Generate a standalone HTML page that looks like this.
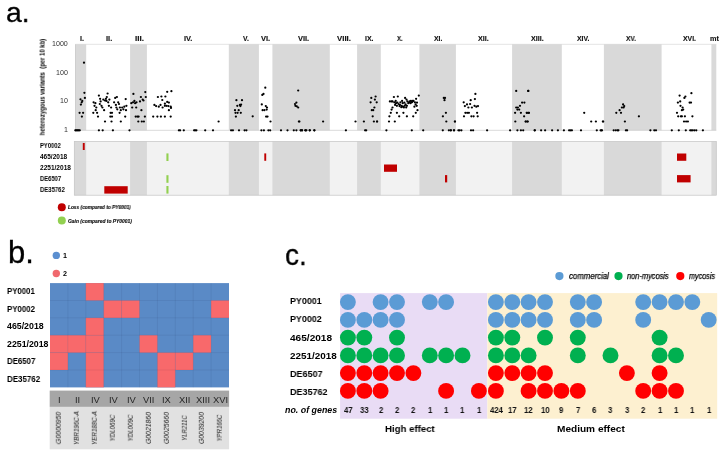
<!DOCTYPE html>
<html><head><meta charset="utf-8"><title>figure</title>
<style>
html,body{margin:0;padding:0;background:#fff;}
body{width:725px;height:457px;position:relative;overflow:hidden;font-family:"Liberation Sans",sans-serif;color:#000;}
.t{position:absolute;white-space:nowrap;line-height:1;will-change:transform;}
</style></head><body>

<svg width="725" height="457" viewBox="0 0 725 457" style="position:absolute;left:0;top:0">
<rect x="75.5" y="44.3" width="640.8" height="86.00000000000001" fill="#fff"/>
<rect x="75.3" y="44.3" width="10.9" height="86.0" fill="#d9d9d9"/>
<rect x="130.1" y="44.3" width="16.8" height="86.0" fill="#d9d9d9"/>
<rect x="228.8" y="44.3" width="30.1" height="86.0" fill="#d9d9d9"/>
<rect x="272.4" y="44.3" width="57.4" height="86.0" fill="#d9d9d9"/>
<rect x="357.1" y="44.3" width="23.7" height="86.0" fill="#d9d9d9"/>
<rect x="419.4" y="44.3" width="36.5" height="86.0" fill="#d9d9d9"/>
<rect x="512.1" y="44.3" width="49.7" height="86.0" fill="#d9d9d9"/>
<rect x="603.9" y="44.3" width="57.7" height="86.0" fill="#d9d9d9"/>
<rect x="711.4" y="44.3" width="4.9" height="86.0" fill="#d9d9d9"/>
<path d="M75.5 44.3H716.3" stroke="#d0d0d0" stroke-width="0.6" fill="none"/>
<path d="M75.5 44.3V130.3H716.3" stroke="#bfbfbf" stroke-width="0.6" fill="none"/>
<g fill="#000">
<circle cx="84.0" cy="62.7" r="1.12"/>
<circle cx="84.4" cy="92.8" r="1.12"/>
<circle cx="84.9" cy="97.9" r="1.12"/>
<circle cx="80.5" cy="99.3" r="1.12"/>
<circle cx="82.3" cy="100.9" r="1.12"/>
<circle cx="81.7" cy="102.3" r="1.12"/>
<circle cx="80.9" cy="104.6" r="1.12"/>
<circle cx="79.6" cy="112.8" r="1.12"/>
<circle cx="83.1" cy="112.8" r="1.12"/>
<circle cx="81.9" cy="116.6" r="1.12"/>
<circle cx="75.3" cy="130.3" r="1.12"/>
<circle cx="76.1" cy="130.3" r="1.12"/>
<circle cx="77.0" cy="130.3" r="1.12"/>
<circle cx="77.9" cy="130.3" r="1.12"/>
<circle cx="78.8" cy="130.3" r="1.12"/>
<circle cx="79.8" cy="130.3" r="1.12"/>
<circle cx="93.6" cy="102.3" r="1.12"/>
<circle cx="94.5" cy="105.8" r="1.12"/>
<circle cx="95.4" cy="103.2" r="1.12"/>
<circle cx="96.3" cy="107.5" r="1.12"/>
<circle cx="95.7" cy="110.2" r="1.12"/>
<circle cx="93.3" cy="112.8" r="1.12"/>
<circle cx="97.1" cy="112.8" r="1.12"/>
<circle cx="98.0" cy="116.6" r="1.12"/>
<circle cx="98.9" cy="95.6" r="1.12"/>
<circle cx="100.1" cy="98.8" r="1.12"/>
<circle cx="100.6" cy="101.4" r="1.12"/>
<circle cx="99.8" cy="104.0" r="1.12"/>
<circle cx="101.5" cy="105.8" r="1.12"/>
<circle cx="102.4" cy="107.5" r="1.12"/>
<circle cx="104.1" cy="110.2" r="1.12"/>
<circle cx="103.3" cy="99.6" r="1.12"/>
<circle cx="105.0" cy="100.5" r="1.12"/>
<circle cx="105.9" cy="98.8" r="1.12"/>
<circle cx="106.8" cy="97.0" r="1.12"/>
<circle cx="107.6" cy="93.5" r="1.12"/>
<circle cx="106.4" cy="100.9" r="1.12"/>
<circle cx="108.2" cy="102.3" r="1.12"/>
<circle cx="109.4" cy="99.6" r="1.12"/>
<circle cx="108.9" cy="105.8" r="1.12"/>
<circle cx="111.1" cy="107.5" r="1.12"/>
<circle cx="110.6" cy="112.8" r="1.12"/>
<circle cx="112.0" cy="112.8" r="1.12"/>
<circle cx="110.3" cy="116.6" r="1.12"/>
<circle cx="112.0" cy="116.6" r="1.12"/>
<circle cx="105.0" cy="121.5" r="1.12"/>
<circle cx="111.5" cy="121.5" r="1.12"/>
<circle cx="112.9" cy="130.3" r="1.12"/>
<circle cx="98.9" cy="130.3" r="1.12"/>
<circle cx="102.7" cy="130.3" r="1.12"/>
<circle cx="114.1" cy="102.3" r="1.12"/>
<circle cx="115.2" cy="97.9" r="1.12"/>
<circle cx="116.9" cy="97.0" r="1.12"/>
<circle cx="115.9" cy="104.9" r="1.12"/>
<circle cx="116.4" cy="107.5" r="1.12"/>
<circle cx="117.3" cy="109.3" r="1.12"/>
<circle cx="118.2" cy="102.3" r="1.12"/>
<circle cx="119.0" cy="104.0" r="1.12"/>
<circle cx="119.9" cy="107.5" r="1.12"/>
<circle cx="120.8" cy="110.2" r="1.12"/>
<circle cx="119.6" cy="112.8" r="1.12"/>
<circle cx="120.8" cy="121.5" r="1.12"/>
<circle cx="122.2" cy="107.5" r="1.12"/>
<circle cx="123.4" cy="109.3" r="1.12"/>
<circle cx="124.3" cy="106.7" r="1.12"/>
<circle cx="125.7" cy="99.1" r="1.12"/>
<circle cx="126.4" cy="105.8" r="1.12"/>
<circle cx="126.0" cy="110.2" r="1.12"/>
<circle cx="125.2" cy="116.6" r="1.12"/>
<circle cx="129.5" cy="130.3" r="1.12"/>
<circle cx="131.3" cy="103.2" r="1.12"/>
<circle cx="132.2" cy="107.5" r="1.12"/>
<circle cx="133.0" cy="102.3" r="1.12"/>
<circle cx="133.4" cy="93.9" r="1.12"/>
<circle cx="134.4" cy="100.9" r="1.12"/>
<circle cx="135.1" cy="103.2" r="1.12"/>
<circle cx="136.2" cy="107.5" r="1.12"/>
<circle cx="136.5" cy="102.3" r="1.12"/>
<circle cx="137.4" cy="116.6" r="1.12"/>
<circle cx="135.7" cy="116.6" r="1.12"/>
<circle cx="138.6" cy="116.6" r="1.12"/>
<circle cx="140.0" cy="101.4" r="1.12"/>
<circle cx="140.9" cy="97.0" r="1.12"/>
<circle cx="141.4" cy="110.2" r="1.12"/>
<circle cx="142.7" cy="99.6" r="1.12"/>
<circle cx="143.5" cy="100.5" r="1.12"/>
<circle cx="145.3" cy="92.1" r="1.12"/>
<circle cx="145.8" cy="97.0" r="1.12"/>
<circle cx="144.9" cy="116.6" r="1.12"/>
<circle cx="138.3" cy="121.5" r="1.12"/>
<circle cx="141.8" cy="121.5" r="1.12"/>
<circle cx="143.9" cy="121.5" r="1.12"/>
<circle cx="167.2" cy="91.8" r="1.12"/>
<circle cx="171.4" cy="91.2" r="1.12"/>
<circle cx="157.9" cy="97.0" r="1.12"/>
<circle cx="161.4" cy="96.5" r="1.12"/>
<circle cx="165.4" cy="96.5" r="1.12"/>
<circle cx="162.3" cy="100.0" r="1.12"/>
<circle cx="167.2" cy="101.9" r="1.12"/>
<circle cx="168.9" cy="102.6" r="1.12"/>
<circle cx="164.9" cy="103.7" r="1.12"/>
<circle cx="154.4" cy="104.9" r="1.12"/>
<circle cx="156.1" cy="106.1" r="1.12"/>
<circle cx="158.8" cy="106.7" r="1.12"/>
<circle cx="160.5" cy="104.9" r="1.12"/>
<circle cx="162.6" cy="107.5" r="1.12"/>
<circle cx="164.9" cy="105.8" r="1.12"/>
<circle cx="166.6" cy="105.8" r="1.12"/>
<circle cx="168.4" cy="106.1" r="1.12"/>
<circle cx="170.7" cy="106.7" r="1.12"/>
<circle cx="171.0" cy="107.9" r="1.12"/>
<circle cx="168.9" cy="110.2" r="1.12"/>
<circle cx="153.2" cy="116.6" r="1.12"/>
<circle cx="157.4" cy="116.6" r="1.12"/>
<circle cx="160.9" cy="116.6" r="1.12"/>
<circle cx="164.9" cy="116.6" r="1.12"/>
<circle cx="170.7" cy="116.6" r="1.12"/>
<circle cx="218.6" cy="121.5" r="1.12"/>
<circle cx="178.9" cy="130.3" r="1.12"/>
<circle cx="180.1" cy="130.3" r="1.12"/>
<circle cx="183.8" cy="130.3" r="1.12"/>
<circle cx="194.1" cy="130.3" r="1.12"/>
<circle cx="195.2" cy="130.3" r="1.12"/>
<circle cx="196.4" cy="130.3" r="1.12"/>
<circle cx="205.2" cy="130.3" r="1.12"/>
<circle cx="213.0" cy="130.3" r="1.12"/>
<circle cx="236.4" cy="100.2" r="1.12"/>
<circle cx="242.0" cy="100.2" r="1.12"/>
<circle cx="237.3" cy="105.8" r="1.12"/>
<circle cx="239.9" cy="104.9" r="1.12"/>
<circle cx="241.1" cy="104.6" r="1.12"/>
<circle cx="240.4" cy="106.1" r="1.12"/>
<circle cx="235.0" cy="110.2" r="1.12"/>
<circle cx="238.7" cy="110.2" r="1.12"/>
<circle cx="235.5" cy="112.8" r="1.12"/>
<circle cx="237.6" cy="112.8" r="1.12"/>
<circle cx="240.8" cy="112.8" r="1.12"/>
<circle cx="235.9" cy="116.6" r="1.12"/>
<circle cx="252.7" cy="116.3" r="1.12"/>
<circle cx="231.1" cy="130.3" r="1.12"/>
<circle cx="232.9" cy="130.3" r="1.12"/>
<circle cx="239.0" cy="130.3" r="1.12"/>
<circle cx="244.6" cy="130.3" r="1.12"/>
<circle cx="246.4" cy="130.3" r="1.12"/>
<circle cx="265.3" cy="87.7" r="1.12"/>
<circle cx="263.5" cy="93.9" r="1.12"/>
<circle cx="262.3" cy="94.9" r="1.12"/>
<circle cx="261.8" cy="104.4" r="1.12"/>
<circle cx="265.8" cy="106.1" r="1.12"/>
<circle cx="267.0" cy="107.5" r="1.12"/>
<circle cx="266.7" cy="109.6" r="1.12"/>
<circle cx="262.6" cy="110.2" r="1.12"/>
<circle cx="264.4" cy="110.2" r="1.12"/>
<circle cx="266.1" cy="116.6" r="1.12"/>
<circle cx="267.5" cy="116.6" r="1.12"/>
<circle cx="270.5" cy="121.5" r="1.12"/>
<circle cx="261.4" cy="130.3" r="1.12"/>
<circle cx="263.9" cy="130.3" r="1.12"/>
<circle cx="268.4" cy="130.3" r="1.12"/>
<circle cx="270.2" cy="130.3" r="1.12"/>
<circle cx="298.2" cy="90.5" r="1.12"/>
<circle cx="296.4" cy="102.6" r="1.12"/>
<circle cx="295.0" cy="104.0" r="1.12"/>
<circle cx="295.4" cy="105.8" r="1.12"/>
<circle cx="296.8" cy="106.3" r="1.12"/>
<circle cx="298.2" cy="107.5" r="1.12"/>
<circle cx="298.9" cy="121.5" r="1.12"/>
<circle cx="299.4" cy="121.5" r="1.12"/>
<circle cx="281.0" cy="130.3" r="1.12"/>
<circle cx="287.5" cy="130.3" r="1.12"/>
<circle cx="293.8" cy="130.3" r="1.12"/>
<circle cx="296.4" cy="130.3" r="1.12"/>
<circle cx="300.6" cy="130.3" r="1.12"/>
<circle cx="302.0" cy="130.3" r="1.12"/>
<circle cx="305.2" cy="130.3" r="1.12"/>
<circle cx="306.4" cy="130.3" r="1.12"/>
<circle cx="309.9" cy="130.3" r="1.12"/>
<circle cx="314.3" cy="130.3" r="1.12"/>
<circle cx="323.1" cy="121.5" r="1.12"/>
<circle cx="300.9" cy="130.3" r="1.12"/>
<circle cx="302.1" cy="130.3" r="1.12"/>
<circle cx="305.6" cy="130.3" r="1.12"/>
<circle cx="309.6" cy="130.3" r="1.12"/>
<circle cx="314.4" cy="130.3" r="1.12"/>
<circle cx="355.5" cy="121.5" r="1.12"/>
<circle cx="345.9" cy="130.3" r="1.12"/>
<circle cx="371.3" cy="97.9" r="1.12"/>
<circle cx="375.6" cy="96.5" r="1.12"/>
<circle cx="374.9" cy="99.6" r="1.12"/>
<circle cx="376.7" cy="102.3" r="1.12"/>
<circle cx="370.6" cy="102.3" r="1.12"/>
<circle cx="374.4" cy="107.5" r="1.12"/>
<circle cx="371.8" cy="110.2" r="1.12"/>
<circle cx="373.2" cy="110.2" r="1.12"/>
<circle cx="372.7" cy="116.3" r="1.12"/>
<circle cx="363.9" cy="121.5" r="1.12"/>
<circle cx="373.9" cy="121.5" r="1.12"/>
<circle cx="377.0" cy="121.5" r="1.12"/>
<circle cx="365.1" cy="130.3" r="1.12"/>
<circle cx="366.2" cy="130.3" r="1.12"/>
<circle cx="389.9" cy="101.4" r="1.12"/>
<circle cx="391.6" cy="101.4" r="1.12"/>
<circle cx="393.9" cy="97.0" r="1.12"/>
<circle cx="397.8" cy="96.5" r="1.12"/>
<circle cx="394.3" cy="102.3" r="1.12"/>
<circle cx="396.0" cy="103.2" r="1.12"/>
<circle cx="395.1" cy="104.9" r="1.12"/>
<circle cx="396.9" cy="105.8" r="1.12"/>
<circle cx="398.6" cy="104.0" r="1.12"/>
<circle cx="400.4" cy="102.3" r="1.12"/>
<circle cx="402.1" cy="100.9" r="1.12"/>
<circle cx="399.5" cy="106.1" r="1.12"/>
<circle cx="401.3" cy="107.2" r="1.12"/>
<circle cx="403.0" cy="106.7" r="1.12"/>
<circle cx="404.8" cy="105.8" r="1.12"/>
<circle cx="405.1" cy="97.9" r="1.12"/>
<circle cx="406.5" cy="99.6" r="1.12"/>
<circle cx="407.4" cy="101.4" r="1.12"/>
<circle cx="409.1" cy="102.3" r="1.12"/>
<circle cx="410.9" cy="100.9" r="1.12"/>
<circle cx="411.8" cy="102.3" r="1.12"/>
<circle cx="412.6" cy="100.9" r="1.12"/>
<circle cx="408.3" cy="103.2" r="1.12"/>
<circle cx="403.9" cy="107.5" r="1.12"/>
<circle cx="406.2" cy="107.5" r="1.12"/>
<circle cx="392.5" cy="107.5" r="1.12"/>
<circle cx="391.6" cy="109.6" r="1.12"/>
<circle cx="390.8" cy="112.8" r="1.12"/>
<circle cx="389.4" cy="116.3" r="1.12"/>
<circle cx="389.0" cy="121.5" r="1.12"/>
<circle cx="394.8" cy="121.5" r="1.12"/>
<circle cx="396.9" cy="112.8" r="1.12"/>
<circle cx="399.2" cy="116.3" r="1.12"/>
<circle cx="403.4" cy="112.8" r="1.12"/>
<circle cx="406.9" cy="116.3" r="1.12"/>
<circle cx="413.2" cy="116.3" r="1.12"/>
<circle cx="415.8" cy="112.8" r="1.12"/>
<circle cx="417.5" cy="110.2" r="1.12"/>
<circle cx="414.4" cy="106.7" r="1.12"/>
<circle cx="392.5" cy="101.4" r="1.12"/>
<circle cx="395.7" cy="100.9" r="1.12"/>
<circle cx="397.4" cy="102.6" r="1.12"/>
<circle cx="399.9" cy="104.9" r="1.12"/>
<circle cx="401.6" cy="105.8" r="1.12"/>
<circle cx="402.7" cy="103.2" r="1.12"/>
<circle cx="404.4" cy="102.6" r="1.12"/>
<circle cx="405.6" cy="104.4" r="1.12"/>
<circle cx="406.9" cy="105.8" r="1.12"/>
<circle cx="409.7" cy="101.4" r="1.12"/>
<circle cx="410.5" cy="103.2" r="1.12"/>
<circle cx="412.1" cy="101.9" r="1.12"/>
<circle cx="413.5" cy="100.9" r="1.12"/>
<circle cx="414.9" cy="102.3" r="1.12"/>
<circle cx="415.6" cy="104.4" r="1.12"/>
<circle cx="416.7" cy="105.8" r="1.12"/>
<circle cx="417.0" cy="102.6" r="1.12"/>
<circle cx="416.1" cy="98.8" r="1.12"/>
<circle cx="418.8" cy="95.6" r="1.12"/>
<circle cx="386.4" cy="130.3" r="1.12"/>
<circle cx="411.8" cy="130.3" r="1.12"/>
<circle cx="377.1" cy="121.5" r="1.12"/>
<circle cx="443.8" cy="97.9" r="1.12"/>
<circle cx="445.0" cy="97.9" r="1.12"/>
<circle cx="444.5" cy="100.2" r="1.12"/>
<circle cx="445.9" cy="112.8" r="1.12"/>
<circle cx="442.9" cy="116.3" r="1.12"/>
<circle cx="446.3" cy="121.5" r="1.12"/>
<circle cx="455.0" cy="121.5" r="1.12"/>
<circle cx="423.2" cy="130.3" r="1.12"/>
<circle cx="442.8" cy="130.3" r="1.12"/>
<circle cx="448.9" cy="130.3" r="1.12"/>
<circle cx="450.8" cy="130.3" r="1.12"/>
<circle cx="454.1" cy="130.3" r="1.12"/>
<circle cx="454.9" cy="121.5" r="1.12"/>
<circle cx="450.9" cy="130.3" r="1.12"/>
<circle cx="453.9" cy="130.3" r="1.12"/>
<circle cx="475.4" cy="93.9" r="1.12"/>
<circle cx="474.9" cy="99.1" r="1.12"/>
<circle cx="470.7" cy="100.2" r="1.12"/>
<circle cx="463.7" cy="102.3" r="1.12"/>
<circle cx="467.0" cy="104.4" r="1.12"/>
<circle cx="470.1" cy="104.0" r="1.12"/>
<circle cx="464.9" cy="106.1" r="1.12"/>
<circle cx="468.4" cy="107.5" r="1.12"/>
<circle cx="471.9" cy="107.5" r="1.12"/>
<circle cx="474.5" cy="105.8" r="1.12"/>
<circle cx="476.3" cy="106.7" r="1.12"/>
<circle cx="478.0" cy="106.1" r="1.12"/>
<circle cx="465.4" cy="112.8" r="1.12"/>
<circle cx="467.2" cy="112.8" r="1.12"/>
<circle cx="468.9" cy="112.8" r="1.12"/>
<circle cx="477.1" cy="112.8" r="1.12"/>
<circle cx="464.0" cy="116.3" r="1.12"/>
<circle cx="471.4" cy="116.3" r="1.12"/>
<circle cx="473.6" cy="116.3" r="1.12"/>
<circle cx="477.7" cy="116.3" r="1.12"/>
<circle cx="458.4" cy="130.3" r="1.12"/>
<circle cx="459.6" cy="130.3" r="1.12"/>
<circle cx="461.4" cy="130.3" r="1.12"/>
<circle cx="471.0" cy="130.3" r="1.12"/>
<circle cx="473.1" cy="130.3" r="1.12"/>
<circle cx="487.1" cy="130.3" r="1.12"/>
<circle cx="510.1" cy="130.3" r="1.12"/>
<circle cx="516.2" cy="90.9" r="1.12"/>
<circle cx="528.3" cy="90.9" r="1.12"/>
<circle cx="522.1" cy="102.6" r="1.12"/>
<circle cx="524.4" cy="102.6" r="1.12"/>
<circle cx="520.0" cy="105.8" r="1.12"/>
<circle cx="516.2" cy="107.5" r="1.12"/>
<circle cx="517.9" cy="107.5" r="1.12"/>
<circle cx="519.2" cy="109.6" r="1.12"/>
<circle cx="517.4" cy="109.6" r="1.12"/>
<circle cx="515.1" cy="112.8" r="1.12"/>
<circle cx="520.9" cy="112.8" r="1.12"/>
<circle cx="526.7" cy="112.8" r="1.12"/>
<circle cx="528.8" cy="112.8" r="1.12"/>
<circle cx="524.1" cy="116.3" r="1.12"/>
<circle cx="515.3" cy="121.5" r="1.12"/>
<circle cx="525.6" cy="121.5" r="1.12"/>
<circle cx="527.6" cy="121.5" r="1.12"/>
<circle cx="517.4" cy="130.3" r="1.12"/>
<circle cx="520.9" cy="130.3" r="1.12"/>
<circle cx="523.2" cy="130.3" r="1.12"/>
<circle cx="534.9" cy="130.3" r="1.12"/>
<circle cx="528.2" cy="90.9" r="1.12"/>
<circle cx="527.1" cy="112.8" r="1.12"/>
<circle cx="528.9" cy="112.8" r="1.12"/>
<circle cx="525.9" cy="121.5" r="1.12"/>
<circle cx="527.6" cy="121.5" r="1.12"/>
<circle cx="534.6" cy="130.3" r="1.12"/>
<circle cx="541.1" cy="130.3" r="1.12"/>
<circle cx="545.1" cy="130.3" r="1.12"/>
<circle cx="552.1" cy="130.3" r="1.12"/>
<circle cx="557.9" cy="130.3" r="1.12"/>
<circle cx="584.2" cy="112.8" r="1.12"/>
<circle cx="591.2" cy="121.5" r="1.12"/>
<circle cx="595.9" cy="121.5" r="1.12"/>
<circle cx="602.9" cy="121.5" r="1.12"/>
<circle cx="563.9" cy="130.3" r="1.12"/>
<circle cx="569.1" cy="130.3" r="1.12"/>
<circle cx="570.5" cy="130.3" r="1.12"/>
<circle cx="571.9" cy="130.3" r="1.12"/>
<circle cx="581.0" cy="130.3" r="1.12"/>
<circle cx="596.8" cy="130.3" r="1.12"/>
<circle cx="600.6" cy="130.3" r="1.12"/>
<circle cx="602.0" cy="130.3" r="1.12"/>
<circle cx="603.2" cy="121.5" r="1.12"/>
<circle cx="601.4" cy="130.3" r="1.12"/>
<circle cx="623.1" cy="104.4" r="1.12"/>
<circle cx="624.2" cy="106.1" r="1.12"/>
<circle cx="621.9" cy="107.5" r="1.12"/>
<circle cx="623.6" cy="107.5" r="1.12"/>
<circle cx="619.6" cy="110.2" r="1.12"/>
<circle cx="616.3" cy="112.8" r="1.12"/>
<circle cx="621.0" cy="112.8" r="1.12"/>
<circle cx="638.9" cy="116.3" r="1.12"/>
<circle cx="624.9" cy="121.5" r="1.12"/>
<circle cx="613.7" cy="130.3" r="1.12"/>
<circle cx="615.8" cy="130.3" r="1.12"/>
<circle cx="617.5" cy="130.3" r="1.12"/>
<circle cx="618.4" cy="130.3" r="1.12"/>
<circle cx="625.9" cy="130.3" r="1.12"/>
<circle cx="627.1" cy="130.3" r="1.12"/>
<circle cx="650.4" cy="130.3" r="1.12"/>
<circle cx="654.3" cy="130.3" r="1.12"/>
<circle cx="656.0" cy="130.3" r="1.12"/>
<circle cx="691.4" cy="93.2" r="1.12"/>
<circle cx="679.6" cy="95.6" r="1.12"/>
<circle cx="685.4" cy="96.5" r="1.12"/>
<circle cx="684.4" cy="97.9" r="1.12"/>
<circle cx="680.2" cy="101.4" r="1.12"/>
<circle cx="677.9" cy="102.6" r="1.12"/>
<circle cx="689.6" cy="102.6" r="1.12"/>
<circle cx="691.0" cy="102.6" r="1.12"/>
<circle cx="680.5" cy="105.8" r="1.12"/>
<circle cx="682.6" cy="107.5" r="1.12"/>
<circle cx="683.2" cy="109.6" r="1.12"/>
<circle cx="681.9" cy="110.2" r="1.12"/>
<circle cx="677.0" cy="112.8" r="1.12"/>
<circle cx="678.2" cy="116.3" r="1.12"/>
<circle cx="680.9" cy="116.3" r="1.12"/>
<circle cx="681.9" cy="116.3" r="1.12"/>
<circle cx="684.9" cy="116.3" r="1.12"/>
<circle cx="692.4" cy="116.3" r="1.12"/>
<circle cx="684.0" cy="121.5" r="1.12"/>
<circle cx="686.1" cy="121.5" r="1.12"/>
<circle cx="687.9" cy="121.5" r="1.12"/>
<circle cx="671.8" cy="130.3" r="1.12"/>
<circle cx="678.8" cy="130.3" r="1.12"/>
<circle cx="685.8" cy="130.3" r="1.12"/>
<circle cx="690.2" cy="130.3" r="1.12"/>
<circle cx="691.4" cy="130.3" r="1.12"/>
<circle cx="692.8" cy="130.3" r="1.12"/>
<circle cx="694.5" cy="130.3" r="1.12"/>
<circle cx="696.3" cy="130.3" r="1.12"/>
<circle cx="702.9" cy="130.3" r="1.12"/>
</g>
<rect x="74.3" y="141.5" width="642.0" height="53.69999999999999" fill="#f2f2f2"/>
<rect x="74.3" y="141.5" width="2" height="53.69999999999999" fill="#d9d9d9"/>
<rect x="75.3" y="141.5" width="10.9" height="53.7" fill="#d9d9d9"/>
<rect x="130.1" y="141.5" width="16.8" height="53.7" fill="#d9d9d9"/>
<rect x="228.8" y="141.5" width="30.1" height="53.7" fill="#d9d9d9"/>
<rect x="272.4" y="141.5" width="57.4" height="53.7" fill="#d9d9d9"/>
<rect x="357.1" y="141.5" width="23.7" height="53.7" fill="#d9d9d9"/>
<rect x="419.4" y="141.5" width="36.5" height="53.7" fill="#d9d9d9"/>
<rect x="512.1" y="141.5" width="49.7" height="53.7" fill="#d9d9d9"/>
<rect x="603.9" y="141.5" width="57.7" height="53.7" fill="#d9d9d9"/>
<rect x="711.4" y="141.5" width="4.9" height="53.7" fill="#d9d9d9"/>
<rect x="82.8" y="143" width="1.9" height="7" fill="#c00000"/>
<rect x="166.4" y="153.4" width="2.1" height="7.6" fill="#92d050"/>
<rect x="166.4" y="175.2" width="2.1" height="7.6" fill="#92d050"/>
<rect x="166.4" y="186" width="2.1" height="7.6" fill="#92d050"/>
<rect x="104.3" y="186.2" width="23.4" height="7.4" fill="#c00000"/>
<rect x="264.3" y="153.4" width="1.9" height="7.4" fill="#c00000"/>
<rect x="384" y="164.5" width="13" height="7.3" fill="#c00000"/>
<rect x="445" y="175.1" width="2.2" height="7.3" fill="#c00000"/>
<rect x="677" y="153.5" width="9.3" height="7.3" fill="#c00000"/>
<rect x="677" y="175.1" width="13.6" height="7.3" fill="#c00000"/>
<rect x="74.3" y="141.5" width="642.0" height="53.69999999999999" fill="none" stroke="#c4c4c4" stroke-width="0.7"/>
<circle cx="61.8" cy="207.3" r="4.0" fill="#c00000"/>
<circle cx="61.8" cy="220.5" r="4.0" fill="#92d050"/>
<rect x="50.0" y="283.1" width="179.0" height="104.3" fill="#5a8ac6"/>
<rect x="85.80" y="283.10" width="17.90" height="17.38" fill="#f8696b"/>
<rect x="103.70" y="300.48" width="17.90" height="17.38" fill="#f8696b"/>
<rect x="121.60" y="300.48" width="17.90" height="17.38" fill="#f8696b"/>
<rect x="211.10" y="300.48" width="17.90" height="17.38" fill="#f8696b"/>
<rect x="85.80" y="317.86" width="17.90" height="17.38" fill="#f8696b"/>
<rect x="50.00" y="335.24" width="17.90" height="17.38" fill="#f8696b"/>
<rect x="67.90" y="335.24" width="17.90" height="17.38" fill="#f8696b"/>
<rect x="85.80" y="335.24" width="17.90" height="17.38" fill="#f8696b"/>
<rect x="139.50" y="335.24" width="17.90" height="17.38" fill="#f8696b"/>
<rect x="193.20" y="335.24" width="17.90" height="17.38" fill="#f8696b"/>
<rect x="50.00" y="352.62" width="17.90" height="17.38" fill="#f8696b"/>
<rect x="85.80" y="352.62" width="17.90" height="17.38" fill="#f8696b"/>
<rect x="157.40" y="352.62" width="17.90" height="17.38" fill="#f8696b"/>
<rect x="175.30" y="352.62" width="17.90" height="17.38" fill="#f8696b"/>
<rect x="85.80" y="370.00" width="17.90" height="17.38" fill="#f8696b"/>
<rect x="157.40" y="370.00" width="17.90" height="17.38" fill="#f8696b"/>
<path d="M67.90 283.1V387.4M85.80 283.1V387.4M103.70 283.1V387.4M121.60 283.1V387.4M139.50 283.1V387.4M157.40 283.1V387.4M175.30 283.1V387.4M193.20 283.1V387.4M211.10 283.1V387.4M50.0 300.48H229.0M50.0 317.86H229.0M50.0 335.24H229.0M50.0 352.62H229.0M50.0 370.00H229.0" stroke="#001030" stroke-opacity="0.09" stroke-width="0.7" fill="none"/>
<rect x="49.7" y="390.6" width="179.4" height="16.3" fill="#a6a6a6"/>
<rect x="49.7" y="406.9" width="179.4" height="42.4" fill="#e1e1e1"/>
<circle cx="56.3" cy="255.4" r="3.7" fill="#5b8fd0"/>
<circle cx="56.3" cy="273.5" r="3.7" fill="#f0696e"/>
<rect x="340.1" y="293.1" width="147.3" height="125.6" fill="#e9dcf5"/>
<rect x="487.4" y="293.1" width="229.8" height="125.6" fill="#fdf0d0"/>
<circle cx="347.9" cy="302.1" r="7.95" fill="#5b9bd5"/>
<circle cx="380.6" cy="302.1" r="7.95" fill="#5b9bd5"/>
<circle cx="397.0" cy="302.1" r="7.95" fill="#5b9bd5"/>
<circle cx="429.8" cy="302.1" r="7.95" fill="#5b9bd5"/>
<circle cx="446.1" cy="302.1" r="7.95" fill="#5b9bd5"/>
<circle cx="495.9" cy="302.1" r="7.95" fill="#5b9bd5"/>
<circle cx="512.3" cy="302.1" r="7.95" fill="#5b9bd5"/>
<circle cx="528.6" cy="302.1" r="7.95" fill="#5b9bd5"/>
<circle cx="545.0" cy="302.1" r="7.95" fill="#5b9bd5"/>
<circle cx="577.8" cy="302.1" r="7.95" fill="#5b9bd5"/>
<circle cx="594.1" cy="302.1" r="7.95" fill="#5b9bd5"/>
<circle cx="643.2" cy="302.1" r="7.95" fill="#5b9bd5"/>
<circle cx="659.6" cy="302.1" r="7.95" fill="#5b9bd5"/>
<circle cx="676.0" cy="302.1" r="7.95" fill="#5b9bd5"/>
<circle cx="692.3" cy="302.1" r="7.95" fill="#5b9bd5"/>
<circle cx="347.9" cy="319.9" r="7.95" fill="#5b9bd5"/>
<circle cx="364.3" cy="319.9" r="7.95" fill="#5b9bd5"/>
<circle cx="380.6" cy="319.9" r="7.95" fill="#5b9bd5"/>
<circle cx="397.0" cy="319.9" r="7.95" fill="#5b9bd5"/>
<circle cx="495.9" cy="319.9" r="7.95" fill="#5b9bd5"/>
<circle cx="512.3" cy="319.9" r="7.95" fill="#5b9bd5"/>
<circle cx="528.6" cy="319.9" r="7.95" fill="#5b9bd5"/>
<circle cx="545.0" cy="319.9" r="7.95" fill="#5b9bd5"/>
<circle cx="577.8" cy="319.9" r="7.95" fill="#5b9bd5"/>
<circle cx="594.1" cy="319.9" r="7.95" fill="#5b9bd5"/>
<circle cx="643.2" cy="319.9" r="7.95" fill="#5b9bd5"/>
<circle cx="708.7" cy="319.9" r="7.95" fill="#5b9bd5"/>
<circle cx="347.9" cy="337.6" r="7.95" fill="#00b050"/>
<circle cx="364.3" cy="337.6" r="7.95" fill="#00b050"/>
<circle cx="397.0" cy="337.6" r="7.95" fill="#00b050"/>
<circle cx="495.9" cy="337.6" r="7.95" fill="#00b050"/>
<circle cx="512.3" cy="337.6" r="7.95" fill="#00b050"/>
<circle cx="545.0" cy="337.6" r="7.95" fill="#00b050"/>
<circle cx="577.8" cy="337.6" r="7.95" fill="#00b050"/>
<circle cx="659.6" cy="337.6" r="7.95" fill="#00b050"/>
<circle cx="347.9" cy="355.4" r="7.95" fill="#00b050"/>
<circle cx="364.3" cy="355.4" r="7.95" fill="#00b050"/>
<circle cx="380.6" cy="355.4" r="7.95" fill="#00b050"/>
<circle cx="397.0" cy="355.4" r="7.95" fill="#00b050"/>
<circle cx="429.8" cy="355.4" r="7.95" fill="#00b050"/>
<circle cx="446.1" cy="355.4" r="7.95" fill="#00b050"/>
<circle cx="462.5" cy="355.4" r="7.95" fill="#00b050"/>
<circle cx="495.9" cy="355.4" r="7.95" fill="#00b050"/>
<circle cx="512.3" cy="355.4" r="7.95" fill="#00b050"/>
<circle cx="528.6" cy="355.4" r="7.95" fill="#00b050"/>
<circle cx="577.8" cy="355.4" r="7.95" fill="#00b050"/>
<circle cx="610.5" cy="355.4" r="7.95" fill="#00b050"/>
<circle cx="659.6" cy="355.4" r="7.95" fill="#00b050"/>
<circle cx="676.0" cy="355.4" r="7.95" fill="#00b050"/>
<circle cx="347.9" cy="373.1" r="7.95" fill="#ff0000"/>
<circle cx="364.3" cy="373.1" r="7.95" fill="#ff0000"/>
<circle cx="380.6" cy="373.1" r="7.95" fill="#ff0000"/>
<circle cx="397.0" cy="373.1" r="7.95" fill="#ff0000"/>
<circle cx="413.4" cy="373.1" r="7.95" fill="#ff0000"/>
<circle cx="495.9" cy="373.1" r="7.95" fill="#ff0000"/>
<circle cx="512.3" cy="373.1" r="7.95" fill="#ff0000"/>
<circle cx="528.6" cy="373.1" r="7.95" fill="#ff0000"/>
<circle cx="545.0" cy="373.1" r="7.95" fill="#ff0000"/>
<circle cx="626.9" cy="373.1" r="7.95" fill="#ff0000"/>
<circle cx="659.6" cy="373.1" r="7.95" fill="#ff0000"/>
<circle cx="347.9" cy="390.9" r="7.95" fill="#ff0000"/>
<circle cx="364.3" cy="390.9" r="7.95" fill="#ff0000"/>
<circle cx="380.6" cy="390.9" r="7.95" fill="#ff0000"/>
<circle cx="446.1" cy="390.9" r="7.95" fill="#ff0000"/>
<circle cx="478.9" cy="390.9" r="7.95" fill="#ff0000"/>
<circle cx="495.9" cy="390.9" r="7.95" fill="#ff0000"/>
<circle cx="528.6" cy="390.9" r="7.95" fill="#ff0000"/>
<circle cx="545.0" cy="390.9" r="7.95" fill="#ff0000"/>
<circle cx="561.4" cy="390.9" r="7.95" fill="#ff0000"/>
<circle cx="577.8" cy="390.9" r="7.95" fill="#ff0000"/>
<circle cx="643.2" cy="390.9" r="7.95" fill="#ff0000"/>
<circle cx="659.6" cy="390.9" r="7.95" fill="#ff0000"/>
<circle cx="676.0" cy="390.9" r="7.95" fill="#ff0000"/>
<circle cx="559.4" cy="276.1" r="4.1" fill="#5b9bd5"/>
<circle cx="618.5" cy="276.1" r="4.1" fill="#00b050"/>
<circle cx="680.3" cy="276.1" r="4.1" fill="#ff0000"/>
</svg>
<div class="t" style="left:8.20px;top:237.10px;font-size:31px;-webkit-text-stroke:0.3px #000;color:#000;transform-origin:0 50%;transform:scaleX(0.990);">b.</div>
<div class="t" style="left:62.90px;top:252.13px;font-size:7.2px;font-weight:bold;color:#000;transform-origin:0 50%;transform:scaleX(1.000);">1</div>
<div class="t" style="left:62.90px;top:270.33px;font-size:7.2px;font-weight:bold;color:#000;transform-origin:0 50%;transform:scaleX(1.000);">2</div>
<div class="t" style="left:7.00px;top:287.30px;font-size:8.5px;font-weight:bold;color:#000;transform-origin:0 50%;transform:scaleX(0.919);">PY0001</div>
<div class="t" style="left:7.00px;top:304.90px;font-size:8.5px;font-weight:bold;color:#000;transform-origin:0 50%;transform:scaleX(0.926);">PY0002</div>
<div class="t" style="left:7.00px;top:322.30px;font-size:8.5px;font-weight:bold;color:#000;transform-origin:0 50%;transform:scaleX(1.035);">465/2018</div>
<div class="t" style="left:7.00px;top:339.90px;font-size:8.5px;font-weight:bold;color:#000;transform-origin:0 50%;transform:scaleX(1.033);">2251/2018</div>
<div class="t" style="left:7.00px;top:357.40px;font-size:8.5px;font-weight:bold;color:#000;transform-origin:0 50%;transform:scaleX(0.921);">DE6507</div>
<div class="t" style="left:7.00px;top:375.00px;font-size:8.5px;font-weight:bold;color:#000;transform-origin:0 50%;transform:scaleX(0.934);">DE35762</div>
<div class="t" style="left:58.04px;top:394.97px;font-size:9.4px;color:#262626;transform-origin:0 50%;transform:scaleX(1.000);">I</div>
<div class="t" style="left:74.64px;top:394.97px;font-size:9.4px;color:#262626;transform-origin:0 50%;transform:scaleX(1.000);">II</div>
<div class="t" style="left:90.71px;top:394.97px;font-size:9.4px;color:#262626;transform-origin:0 50%;transform:scaleX(1.000);">IV</div>
<div class="t" style="left:108.61px;top:394.97px;font-size:9.4px;color:#262626;transform-origin:0 50%;transform:scaleX(1.000);">IV</div>
<div class="t" style="left:126.51px;top:394.97px;font-size:9.4px;color:#262626;transform-origin:0 50%;transform:scaleX(1.000);">IV</div>
<div class="t" style="left:143.10px;top:394.97px;font-size:9.4px;color:#262626;transform-origin:0 50%;transform:scaleX(1.000);">VII</div>
<div class="t" style="left:162.31px;top:394.97px;font-size:9.4px;color:#262626;transform-origin:0 50%;transform:scaleX(1.000);">IX</div>
<div class="t" style="left:178.90px;top:394.97px;font-size:9.4px;color:#262626;transform-origin:0 50%;transform:scaleX(1.000);">XII</div>
<div class="t" style="left:195.50px;top:394.97px;font-size:9.4px;color:#262626;transform-origin:0 50%;transform:scaleX(1.000);">XIII</div>
<div class="t" style="left:212.87px;top:394.97px;font-size:9.4px;color:#262626;transform-origin:0 50%;transform:scaleX(1.000);">XVI</div>
<div class="t" style="left:59.25px;top:428.30px;font-size:6.4px;font-style:italic;color:#101010;transform:translate(-50%,-50%) rotate(-90deg) scaleX(1.087);">G0000950</div>
<div class="t" style="left:77.15px;top:428.30px;font-size:6.4px;font-style:italic;color:#101010;transform:translate(-50%,-50%) rotate(-90deg) scaleX(0.975);">YBR196C-A</div>
<div class="t" style="left:95.05px;top:428.30px;font-size:6.4px;font-style:italic;color:#101010;transform:translate(-50%,-50%) rotate(-90deg) scaleX(0.975);">YER188C-A</div>
<div class="t" style="left:112.95px;top:428.30px;font-size:6.4px;font-style:italic;color:#101010;transform:translate(-50%,-50%) rotate(-90deg) scaleX(0.962);">YDL069C</div>
<div class="t" style="left:130.85px;top:428.30px;font-size:6.4px;font-style:italic;color:#101010;transform:translate(-50%,-50%) rotate(-90deg) scaleX(0.962);">YDL009C</div>
<div class="t" style="left:148.75px;top:428.30px;font-size:6.4px;font-style:italic;color:#101010;transform:translate(-50%,-50%) rotate(-90deg) scaleX(1.070);">G0021860</div>
<div class="t" style="left:166.65px;top:428.30px;font-size:6.4px;font-style:italic;color:#101010;transform:translate(-50%,-50%) rotate(-90deg) scaleX(1.070);">G0025660</div>
<div class="t" style="left:184.55px;top:428.30px;font-size:6.4px;font-style:italic;color:#101010;transform:translate(-50%,-50%) rotate(-90deg) scaleX(0.935);">YLR211C</div>
<div class="t" style="left:202.45px;top:428.30px;font-size:6.4px;font-style:italic;color:#101010;transform:translate(-50%,-50%) rotate(-90deg) scaleX(1.070);">G0039200</div>
<div class="t" style="left:220.35px;top:428.30px;font-size:6.4px;font-style:italic;color:#101010;transform:translate(-50%,-50%) rotate(-90deg) scaleX(0.938);">YPR166C</div>
<div class="t" style="left:284.80px;top:240.39px;font-size:30px;-webkit-text-stroke:0.3px #000;color:#000;transform-origin:0 50%;transform:scaleX(0.934);">c.</div>
<div class="t" style="left:290.20px;top:295.62px;font-size:9.5px;font-weight:bold;color:#000;transform-origin:0 50%;transform:scaleX(0.938);">PY0001</div>
<div class="t" style="left:290.20px;top:314.22px;font-size:9.5px;font-weight:bold;color:#000;transform-origin:0 50%;transform:scaleX(0.938);">PY0002</div>
<div class="t" style="left:290.20px;top:332.82px;font-size:9.5px;font-weight:bold;color:#000;transform-origin:0 50%;transform:scaleX(1.062);">465/2018</div>
<div class="t" style="left:290.20px;top:351.12px;font-size:9.5px;font-weight:bold;color:#000;transform-origin:0 50%;transform:scaleX(1.042);">2251/2018</div>
<div class="t" style="left:290.20px;top:368.82px;font-size:9.5px;font-weight:bold;color:#000;transform-origin:0 50%;transform:scaleX(0.950);">DE6507</div>
<div class="t" style="left:290.20px;top:387.42px;font-size:9.5px;font-weight:bold;color:#000;transform-origin:0 50%;transform:scaleX(0.949);">DE35762</div>
<div class="t" style="left:284.60px;top:406.06px;font-size:8.8px;font-weight:bold;font-style:italic;color:#000;transform-origin:0 50%;transform:scaleX(1.007);">no. of genes</div>
<div class="t" style="left:343.70px;top:405.76px;font-size:9.0px;font-weight:bold;color:#111;transform-origin:0 50%;transform:scaleX(0.859);">47</div>
<div class="t" style="left:360.07px;top:405.76px;font-size:9.0px;font-weight:bold;color:#111;transform-origin:0 50%;transform:scaleX(0.859);">33</div>
<div class="t" style="left:378.59px;top:405.76px;font-size:9.0px;font-weight:bold;color:#111;transform-origin:0 50%;transform:scaleX(0.859);">2</div>
<div class="t" style="left:394.96px;top:405.76px;font-size:9.0px;font-weight:bold;color:#111;transform-origin:0 50%;transform:scaleX(0.859);">2</div>
<div class="t" style="left:411.33px;top:405.76px;font-size:9.0px;font-weight:bold;color:#111;transform-origin:0 50%;transform:scaleX(0.859);">2</div>
<div class="t" style="left:427.70px;top:405.76px;font-size:9.0px;font-weight:bold;color:#111;transform-origin:0 50%;transform:scaleX(0.859);">1</div>
<div class="t" style="left:444.07px;top:405.76px;font-size:9.0px;font-weight:bold;color:#111;transform-origin:0 50%;transform:scaleX(0.859);">1</div>
<div class="t" style="left:460.44px;top:405.76px;font-size:9.0px;font-weight:bold;color:#111;transform-origin:0 50%;transform:scaleX(0.859);">1</div>
<div class="t" style="left:476.81px;top:405.76px;font-size:9.0px;font-weight:bold;color:#111;transform-origin:0 50%;transform:scaleX(0.859);">1</div>
<div class="t" style="left:489.55px;top:405.76px;font-size:9.0px;font-weight:bold;color:#111;transform-origin:0 50%;transform:scaleX(0.859);">424</div>
<div class="t" style="left:508.07px;top:405.76px;font-size:9.0px;font-weight:bold;color:#111;transform-origin:0 50%;transform:scaleX(0.859);">17</div>
<div class="t" style="left:524.44px;top:405.76px;font-size:9.0px;font-weight:bold;color:#111;transform-origin:0 50%;transform:scaleX(0.859);">12</div>
<div class="t" style="left:540.81px;top:405.76px;font-size:9.0px;font-weight:bold;color:#111;transform-origin:0 50%;transform:scaleX(0.859);">10</div>
<div class="t" style="left:559.33px;top:405.76px;font-size:9.0px;font-weight:bold;color:#111;transform-origin:0 50%;transform:scaleX(0.859);">9</div>
<div class="t" style="left:575.70px;top:405.76px;font-size:9.0px;font-weight:bold;color:#111;transform-origin:0 50%;transform:scaleX(0.859);">7</div>
<div class="t" style="left:592.07px;top:405.76px;font-size:9.0px;font-weight:bold;color:#111;transform-origin:0 50%;transform:scaleX(0.859);">6</div>
<div class="t" style="left:608.44px;top:405.76px;font-size:9.0px;font-weight:bold;color:#111;transform-origin:0 50%;transform:scaleX(0.859);">3</div>
<div class="t" style="left:624.81px;top:405.76px;font-size:9.0px;font-weight:bold;color:#111;transform-origin:0 50%;transform:scaleX(0.859);">3</div>
<div class="t" style="left:641.18px;top:405.76px;font-size:9.0px;font-weight:bold;color:#111;transform-origin:0 50%;transform:scaleX(0.859);">2</div>
<div class="t" style="left:657.55px;top:405.76px;font-size:9.0px;font-weight:bold;color:#111;transform-origin:0 50%;transform:scaleX(0.859);">1</div>
<div class="t" style="left:673.92px;top:405.76px;font-size:9.0px;font-weight:bold;color:#111;transform-origin:0 50%;transform:scaleX(0.859);">1</div>
<div class="t" style="left:690.29px;top:405.76px;font-size:9.0px;font-weight:bold;color:#111;transform-origin:0 50%;transform:scaleX(0.859);">1</div>
<div class="t" style="left:706.66px;top:405.76px;font-size:9.0px;font-weight:bold;color:#111;transform-origin:0 50%;transform:scaleX(0.859);">1</div>
<div class="t" style="left:385.40px;top:424.28px;font-size:9.8px;font-weight:bold;color:#000;transform-origin:0 50%;transform:scaleX(0.983);">High effect</div>
<div class="t" style="left:556.60px;top:424.28px;font-size:9.8px;font-weight:bold;color:#000;transform-origin:0 50%;transform:scaleX(1.029);">Medium effect</div>
<div class="t" style="left:569.10px;top:273.19px;font-size:8.2px;font-style:italic;-webkit-text-stroke:0.25px #000;color:#000;transform-origin:0 50%;transform:scaleX(0.954);">commercial</div>
<div class="t" style="left:627.40px;top:273.19px;font-size:8.2px;font-style:italic;-webkit-text-stroke:0.25px #000;color:#000;transform-origin:0 50%;transform:scaleX(0.906);">non-mycosis</div>
<div class="t" style="left:689.00px;top:273.19px;font-size:8.2px;font-style:italic;-webkit-text-stroke:0.25px #000;color:#000;transform-origin:0 50%;transform:scaleX(0.878);">mycosis</div>
<div class="t" style="left:6.30px;top:-1.53px;font-size:28.5px;-webkit-text-stroke:0.3px #000;color:#000;transform-origin:0 50%;transform:scaleX(0.993);">a.</div>
<div class="t" style="left:80.40px;top:36.12px;font-size:6.8px;font-weight:bold;-webkit-text-stroke:0.12px #111;color:#111;transform-origin:0 50%;transform:scaleX(1.059);">I.</div>
<div class="t" style="left:105.50px;top:36.12px;font-size:6.8px;font-weight:bold;-webkit-text-stroke:0.12px #111;color:#111;transform-origin:0 50%;transform:scaleX(1.094);">II.</div>
<div class="t" style="left:134.50px;top:36.12px;font-size:6.8px;font-weight:bold;-webkit-text-stroke:0.12px #111;color:#111;transform-origin:0 50%;transform:scaleX(1.191);">III.</div>
<div class="t" style="left:183.70px;top:36.12px;font-size:6.8px;font-weight:bold;-webkit-text-stroke:0.12px #111;color:#111;transform-origin:0 50%;transform:scaleX(1.092);">IV.</div>
<div class="t" style="left:242.50px;top:36.12px;font-size:6.8px;font-weight:bold;-webkit-text-stroke:0.12px #111;color:#111;transform-origin:0 50%;transform:scaleX(1.000);">V.</div>
<div class="t" style="left:261.20px;top:36.12px;font-size:6.8px;font-weight:bold;-webkit-text-stroke:0.12px #111;color:#111;transform-origin:0 50%;transform:scaleX(1.107);">VI.</div>
<div class="t" style="left:297.90px;top:36.12px;font-size:6.8px;font-weight:bold;-webkit-text-stroke:0.12px #111;color:#111;transform-origin:0 50%;transform:scaleX(1.098);">VII.</div>
<div class="t" style="left:337.35px;top:36.12px;font-size:6.8px;font-weight:bold;-webkit-text-stroke:0.12px #111;color:#111;transform-origin:0 50%;transform:scaleX(1.149);">VIII.</div>
<div class="t" style="left:364.95px;top:36.12px;font-size:6.8px;font-weight:bold;-webkit-text-stroke:0.12px #111;color:#111;transform-origin:0 50%;transform:scaleX(1.022);">IX.</div>
<div class="t" style="left:396.95px;top:36.12px;font-size:6.8px;font-weight:bold;-webkit-text-stroke:0.12px #111;color:#111;transform-origin:0 50%;transform:scaleX(0.887);">X.</div>
<div class="t" style="left:434.40px;top:36.12px;font-size:6.8px;font-weight:bold;-webkit-text-stroke:0.12px #111;color:#111;transform-origin:0 50%;transform:scaleX(1.010);">XI.</div>
<div class="t" style="left:477.55px;top:36.12px;font-size:6.8px;font-weight:bold;-webkit-text-stroke:0.12px #111;color:#111;transform-origin:0 50%;transform:scaleX(1.049);">XII.</div>
<div class="t" style="left:531.00px;top:36.12px;font-size:6.8px;font-weight:bold;-webkit-text-stroke:0.12px #111;color:#111;transform-origin:0 50%;transform:scaleX(1.042);">XIII.</div>
<div class="t" style="left:576.90px;top:36.12px;font-size:6.8px;font-weight:bold;-webkit-text-stroke:0.12px #111;color:#111;transform-origin:0 50%;transform:scaleX(1.014);">XIV.</div>
<div class="t" style="left:626.25px;top:36.12px;font-size:6.8px;font-weight:bold;-webkit-text-stroke:0.12px #111;color:#111;transform-origin:0 50%;transform:scaleX(0.958);">XV.</div>
<div class="t" style="left:682.50px;top:36.12px;font-size:6.8px;font-weight:bold;-webkit-text-stroke:0.12px #111;color:#111;transform-origin:0 50%;transform:scaleX(1.012);">XVI.</div>
<div class="t" style="left:710.15px;top:36.12px;font-size:6.8px;font-weight:bold;-webkit-text-stroke:0.12px #111;color:#111;transform-origin:0 50%;transform:scaleX(1.071);">mt</div>
<div class="t" style="left:52.10px;top:41.18px;font-size:7.1px;color:#333;transform-origin:0 50%;transform:scaleX(1.000);">1000</div>
<div class="t" style="left:56.05px;top:69.88px;font-size:7.1px;color:#333;transform-origin:0 50%;transform:scaleX(1.000);">100</div>
<div class="t" style="left:60.00px;top:98.48px;font-size:7.1px;color:#333;transform-origin:0 50%;transform:scaleX(1.000);">10</div>
<div class="t" style="left:63.95px;top:127.18px;font-size:7.1px;color:#333;transform-origin:0 50%;transform:scaleX(1.000);">1</div>
<div class="t" style="left:42.70px;top:86.90px;font-size:6.8px;font-weight:bold;color:#000;transform:translate(-50%,-50%) rotate(-90deg) scaleX(0.875);">heterozygous variants  (per 10 kb)</div>
<div class="t" style="left:40.00px;top:143.47px;font-size:6.5px;font-weight:bold;color:#000;transform-origin:0 50%;transform:scaleX(0.895);">PY0002</div>
<div class="t" style="left:40.00px;top:154.37px;font-size:6.5px;font-weight:bold;color:#000;transform-origin:0 50%;transform:scaleX(0.996);">465/2018</div>
<div class="t" style="left:40.00px;top:165.27px;font-size:6.5px;font-weight:bold;color:#000;transform-origin:0 50%;transform:scaleX(1.006);">2251/2018</div>
<div class="t" style="left:40.00px;top:176.17px;font-size:6.5px;font-weight:bold;color:#000;transform-origin:0 50%;transform:scaleX(0.902);">DE6507</div>
<div class="t" style="left:40.00px;top:186.97px;font-size:6.5px;font-weight:bold;color:#000;transform-origin:0 50%;transform:scaleX(0.915);">DE35762</div>
<div class="t" style="left:68.30px;top:206.09px;font-size:4.8px;font-weight:bold;font-style:italic;-webkit-text-stroke:0.15px #111;color:#111;transform-origin:0 50%;transform:scaleX(0.994);">Loss (compared to PY0001)</div>
<div class="t" style="left:68.30px;top:219.59px;font-size:4.8px;font-weight:bold;font-style:italic;-webkit-text-stroke:0.15px #111;color:#111;transform-origin:0 50%;transform:scaleX(1.025);">Gain (compared to PY0001)</div>
</body></html>
